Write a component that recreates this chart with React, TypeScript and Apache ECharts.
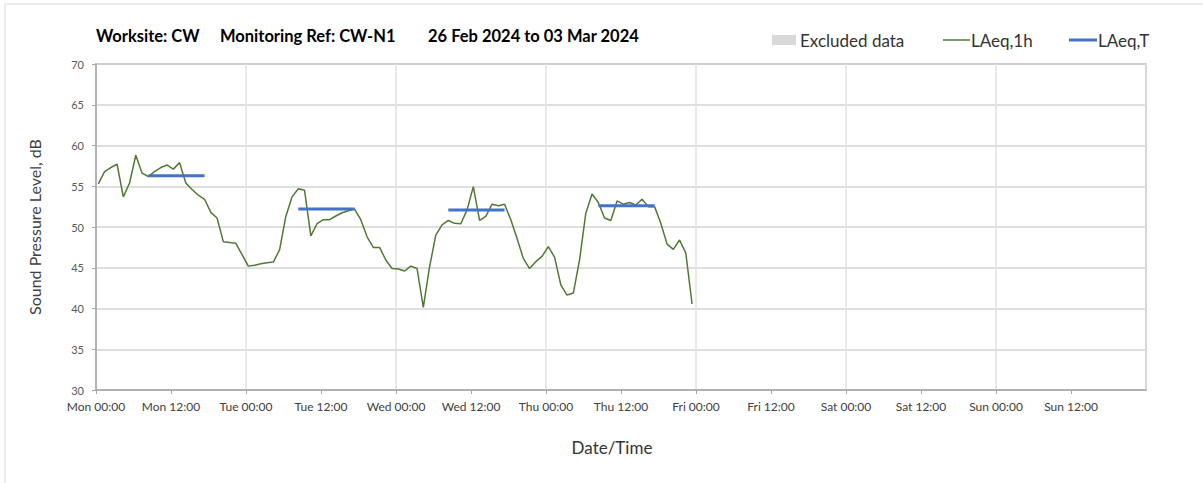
import React, { useEffect, useRef } from "react";
import * as echarts from "echarts";

// ---- data ----
const dayNames = ["Mon", "Tue", "Wed", "Thu", "Fri", "Sat", "Sun", "Mon"];
const yTicks = { min: 30, max: 70, step: 5 };
// hourly LAeq,1h values from Mon 00:00 (one per hour)
const laeq1h = [
  55.3, 56.8, 57.3, 57.7, 53.7, 55.4, 58.8, 56.6, 56.2, 56.8, 57.3, 57.6,
  57.1, 57.9, 55.4, 54.6, 53.9, 53.4, 51.8, 51.1, 48.2, 48.1, 48.0, 46.6,
  45.2, 45.3, 45.5, 45.6, 45.7, 47.2, 51.3, 53.7, 54.7, 54.5, 48.9, 50.4,
  50.9, 50.9, 51.35, 51.75, 52.0, 52.2, 50.9, 48.8, 47.5, 47.5, 45.95, 44.9,
  44.85, 44.6, 45.2, 44.9, 40.15, 45.1, 49.0, 50.25, 50.8, 50.45, 50.4, 52.1,
  54.95, 50.8, 51.3, 52.8, 52.6, 52.8, 50.9, 48.6, 46.15, 44.9, 45.75, 46.4,
  47.6, 46.3, 42.9, 41.65, 41.9, 45.95, 51.7, 54.05, 53.0, 51.1, 50.8, 53.2,
  52.8, 53.0, 52.7, 53.4, 52.5, 52.5, 50.45, 47.9, 47.25, 48.4, 46.8, 40.55,
];
// LAeq,T daytime periods (day index, value), spanning 08:00 to 17:00
const laeqTDays = [0, 1, 2, 3];
const laeqTValues = [56.3, 52.2, 52.1, 52.6];
const periodStartHour = 8;
const periodEndHour = 17;
const sampleOffsetHours = 0.37; // samples are plotted slightly after the hour

const GREEN = "#4f7a34";
const BLUE = "#4472c4";
const FONT = "Lato";

export default function App() {
  const ref = useRef<HTMLDivElement>(null);
  useEffect(() => {
    document.body.style.margin = "0";
    if (!ref.current) return;
    const chart = echarts.init(ref.current, undefined, { renderer: "svg" });

    const lineData = laeq1h.map((v, i) => [i + sampleOffsetHours, v]);
    const tSeries = laeqTDays.map((d, k) => ({
      name: "LAeq,T",
      type: "line",
      xAxisIndex: 0,
      symbol: "none",
      lineStyle: { color: BLUE, width: 3 },
      z: 3,
      data: [
        [d * 24 + periodStartHour + sampleOffsetHours, laeqTValues[k]],
        [d * 24 + periodEndHour + sampleOffsetHours, laeqTValues[k]],
      ],
    }));

    chart.setOption({
      animation: false,
      backgroundColor: "#ffffff",
      textStyle: { fontFamily: FONT },
      grid: {
        left: 96,
        top: 64,
        right: 57,
        bottom: 93,
        show: true,
        borderColor: "#a6a6a6",
        borderWidth: 1.5,
        backgroundColor: "transparent",
      },
      xAxis: [
        {
          type: "value",
          min: 0,
          max: 168,
          interval: 12,
          axisLine: { show: true, lineStyle: { color: "#a6a6a6", width: 1.5 } },
          axisTick: { show: true, length: 4, lineStyle: { color: "#a6a6a6" } },
          axisLabel: {
            color: "#404040",
            fontSize: 12,
            fontFamily: FONT,
            margin: 10,
            showMaxLabel: false,
            formatter: (v: number) =>
              dayNames[Math.floor(v / 24)] + " " + (v % 24 === 0 ? "00:00" : "12:00"),
          },
          splitLine: { show: false },
        },
        {
          type: "value",
          min: 0,
          max: 168,
          interval: 24,
          position: "bottom",
          axisLine: { show: false },
          axisTick: { show: false },
          axisLabel: { show: false },
          splitLine: { show: true, lineStyle: { color: "#e2e2e2", width: 1.5 } },
        },
      ],
      yAxis: {
        type: "value",
        min: yTicks.min,
        max: yTicks.max,
        interval: yTicks.step,
        name: "Sound Pressure Level, dB",
        nameLocation: "middle",
        nameGap: 54,
        nameTextStyle: { fontSize: 16, color: "#404040", fontFamily: FONT },
        axisLine: { show: true, lineStyle: { color: "#a6a6a6", width: 1.5 } },
        axisTick: { show: true, length: 4, lineStyle: { color: "#a6a6a6" } },
        axisLabel: { color: "#595959", fontSize: 11, margin: 12, fontFamily: FONT },
        splitLine: { show: true, lineStyle: { color: "#d4d4d4", width: 1.5 } },
      },
      series: [
        {
          name: "LAeq,1h",
          type: "line",
          xAxisIndex: 0,
          symbol: "none",
          lineStyle: { color: GREEN, width: 1.5 },
          z: 2,
          data: lineData,
        },
        ...tSeries,
      ],
      graphic: [
        {
          type: "rect",
          shape: { x: 5, y: 4, width: 1300, height: 600 },
          style: { fill: "none", stroke: "#d9d9d9", lineWidth: 1 },
          silent: true,
        },
        {
          type: "text",
          x: 96,
          y: 36,
          style: { text: "Worksite: CW", font: `bold 16.5px ${FONT}`, fill: "#000", verticalAlign: "middle" },
        },
        {
          type: "text",
          x: 220,
          y: 36,
          style: { text: "Monitoring Ref: CW-N1", font: `bold 16.5px ${FONT}`, fill: "#000", verticalAlign: "middle" },
        },
        {
          type: "text",
          x: 428,
          y: 36,
          style: { text: "26 Feb 2024 to 03 Mar 2024", font: `bold 16.5px ${FONT}`, fill: "#000", verticalAlign: "middle" },
        },
        { type: "rect", shape: { x: 772, y: 35, width: 24, height: 10 }, style: { fill: "#d9d9d9" } },
        {
          type: "text",
          x: 800,
          y: 40,
          style: { text: "Excluded data", font: `17px ${FONT}`, fill: "#333333", verticalAlign: "middle" },
        },
        { type: "line", shape: { x1: 943, y1: 40, x2: 970, y2: 40 }, style: { stroke: GREEN, lineWidth: 1.5 } },
        {
          type: "text",
          x: 971,
          y: 40,
          style: { text: "LAeq,1h", font: `17px ${FONT}`, fill: "#333333", verticalAlign: "middle" },
        },
        { type: "line", shape: { x1: 1069, y1: 40, x2: 1097, y2: 40 }, style: { stroke: BLUE, lineWidth: 3 } },
        {
          type: "text",
          x: 1098,
          y: 40,
          style: { text: "LAeq,T", font: `17px ${FONT}`, fill: "#333333", verticalAlign: "middle" },
        },
        {
          type: "text",
          x: 612,
          y: 447,
          style: { text: "Date/Time", font: `17px ${FONT}`, fill: "#333333", align: "center", verticalAlign: "middle" },
        },
      ],
    });
    return () => chart.dispose();
  }, []);
  return <div ref={ref} style={{ width: 1203, height: 483 }} />;
}
